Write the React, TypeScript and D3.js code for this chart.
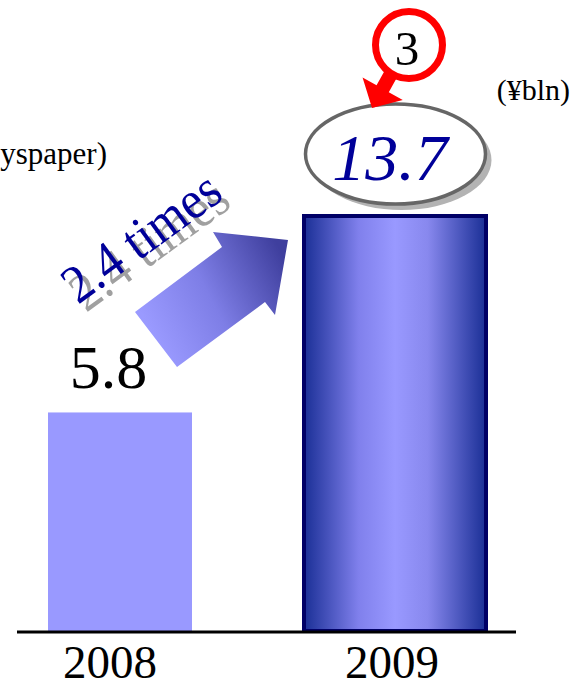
import React from "react";
import * as d3 from "d3";

// Annual figures, in billions of yen
const years = ["2008", "2009"];
const values = [5.8, 13.7];
const growthLabel = "2.4 times";
const unitLabel = "(¥bln)";
const seriesLabel = "(Toyspaper)";
const rankLabel = "3";

const W = 579;
const H = 683;
const FONT = "'Liberation Serif', 'Times New Roman', serif";

export default function App() {
  const baseY = 631;
  // Value axis floor sits below zero so the short bar keeps its presence
  const axisFloor = -2.9;
  const y = d3.scaleLinear().domain([axisFloor, 13.7]).range([baseY, 214]);
  const x = d3.scaleBand().domain(years).range([-17.5, 532.5]).paddingInner(0);
  const barWidths = [144, 186];

  const cx0 = x(years[0])! + x.bandwidth() / 2;
  const cx1 = x(years[1])! + x.bandwidth() / 2;
  const top1 = y(values[1]);

  // Big growth arrow, in absolute page coordinates
  const arrowPts: [number, number][] = [
    [135, 312], [222, 247], [213, 232], [288, 240], [275, 315], [265, 302], [177, 367],
  ];
  const arrowPath = d3.line()(arrowPts)! + "Z";

  // Red callout: circle with an arrow pointing at the value ellipse
  const ringC = { x: 409, y: 45, r: 33.5 };
  const redArrow = "M0,0 L-23,-22 L-7,-22 L-7,-62 L7,-62 L7,-22 L23,-22 Z";

  const ell = { cx: 395.5, cy: 154, rx: 90, ry: 50 };

  const growthTransform = "rotate(-36) scale(0.92,1)";

  return (
    <svg width={W} height={H} style={{ position: "absolute", left: 0, top: 0, background: "#fff" }}>
      <defs>
        <linearGradient id="barGrad" x1="0" x2="1" y1="0" y2="0">
          <stop offset="0" stopColor="#1a2f96" />
          <stop offset="0.3" stopColor="#8080ec" />
          <stop offset="0.5" stopColor="#9999ff" />
          <stop offset="0.68" stopColor="#8888ee" />
          <stop offset="1" stopColor="#1a2f96" />
        </linearGradient>
        <linearGradient id="arrowGrad" gradientUnits="userSpaceOnUse" x1="150" y1="330" x2="285" y2="260">
          <stop offset="0" stopColor="#9a9aff" />
          <stop offset="0.45" stopColor="#7e7ee6" />
          <stop offset="1" stopColor="#3f3f9e" />
        </linearGradient>
      </defs>

      {/* series caption, partly off the left edge */}
      <text x={107} y={164} textAnchor="end" fontFamily={FONT} fontSize={31} fill="#000">
        {seriesLabel}
      </text>
      <text x={570} y={100} textAnchor="end" fontFamily={FONT} fontSize={30} fill="#000">
        {unitLabel}
      </text>

      {/* 2008 bar */}
      <rect
        x={cx0 - barWidths[0] / 2}
        y={y(values[0])}
        width={barWidths[0]}
        height={baseY - y(values[0])}
        fill="#9999ff"
      />
      <text x={cx0 - 11.5} y={388} textAnchor="middle" fontFamily={FONT} fontSize={62} fill="#000">
        {values[0].toFixed(1)}
      </text>

      {/* 2009 bar */}
      <rect
        x={cx1 - barWidths[1] / 2 + 2}
        y={top1 + 2}
        width={barWidths[1] - 4}
        height={baseY - top1 - 2}
        fill="url(#barGrad)"
        stroke="#000066"
        strokeWidth={4}
      />

      {/* baseline */}
      <line x1={17} x2={516} y1={baseY + 1} y2={baseY + 1} stroke="#000" strokeWidth={3} />

      {/* year labels */}
      {years.map((yr, i) => (
        <text
          key={yr}
          x={(i === 0 ? cx0 : cx1) - (i === 0 ? 10 : 3)}
          y={678}
          textAnchor="middle"
          fontFamily={FONT}
          fontSize={47}
          fill="#000"
        >
          {yr}
        </text>
      ))}

      {/* growth arrow */}
      <path d={arrowPath} fill="url(#arrowGrad)" />

      {/* growth multiple with drop shadow */}
      <g transform={`translate(86,313) ${growthTransform}`}>
        <text x={0} y={0} fontFamily={FONT} fontSize={54} fill="#a0a0a0">
          {growthLabel}
        </text>
      </g>
      <g transform={`translate(78,305) ${growthTransform}`}>
        <text x={0} y={0} fontFamily={FONT} fontSize={54} fill="#000099">
          {growthLabel}
        </text>
      </g>

      {/* value ellipse with shadow */}
      <ellipse cx={ell.cx + 6} cy={ell.cy + 6} rx={ell.rx} ry={ell.ry} fill="#b3b3b3" />
      <ellipse cx={ell.cx} cy={ell.cy} rx={ell.rx} ry={ell.ry} fill="#fff" stroke="#666" strokeWidth={3.5} />
      <text
        x={390}
        y={180}
        textAnchor="middle"
        fontFamily={FONT}
        fontStyle="italic"
        fontSize={66}
        fill="#000099"
      >
        {values[1].toFixed(1)}
      </text>

      {/* red rank callout */}
      <g transform="translate(372,108) rotate(29)">
        <path d={redArrow} fill="#ff0000" />
      </g>
      <circle cx={ringC.x} cy={ringC.y} r={ringC.r} fill="#fff" stroke="#ff0000" strokeWidth={7} />
      <text x={407} y={65} textAnchor="middle" fontFamily={FONT} fontSize={49} fill="#000">
        {rankLabel}
      </text>
    </svg>
  );
}
